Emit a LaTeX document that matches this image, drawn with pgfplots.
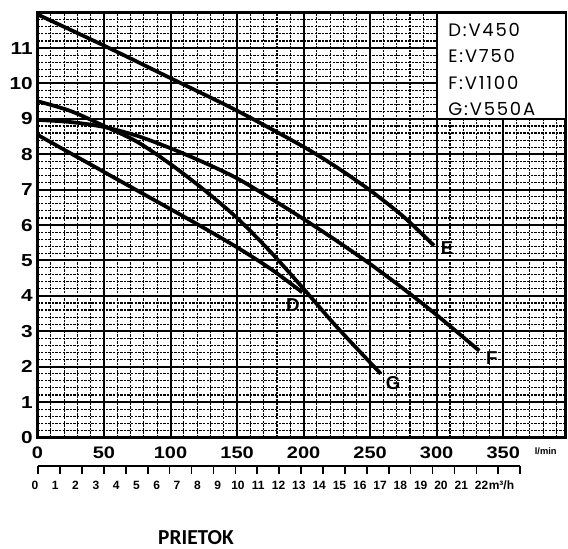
\documentclass[border=0pt]{standalone}
\usepackage{fontspec}
\setmainfont{Liberation Sans}
\usepackage{pgfplots}
\pgfplotsset{compat=1.18}
\newfontfamily\tickfont{Liberation Sans Bold}[FakeStretch=1.2]
\newfontfamily\legfont{Poppins}[LetterSpace=10]
\newfontfamily\calfont{Carlito}
\begin{document}
\begin{tikzpicture}
\useasboundingbox (-28.1pt,-83.6pt) rectangle (397.9pt,328.1pt);
\begin{axis}[
  at={(0pt,0pt)}, anchor=south west,
  scale only axis, width=396.2pt, height=318.6pt,
  xmin=0, xmax=397, ymin=0, ymax=12,
  xtick={0,50,...,350}, ytick={0,...,11},
  minor xtick={10,20,...,390},
  minor ytick={0.2,0.4,...,11.8},
  grid=both,
  major grid style={black, line width=1.5pt},
  minor grid style={black, line width=0.85pt, dash pattern=on 1.8pt off 0.9pt},
  major tick length=0pt, minor tick length=0pt,
  axis line style={black, line width=2.2pt},
  /pgf/number format/assume math mode=true,
  xticklabel style={font=\tickfont\fontsize{12.5pt}{14pt}\selectfont, anchor=north, inner sep=0pt, yshift=-6.9pt},
  yticklabel style={font=\tickfont\fontsize{13pt}{14pt}\selectfont, anchor=east, inner sep=0pt, xshift=-3.4pt},
  clip=false,
]
% D: V450
\addplot[black, line width=2.8pt, smooth] coordinates {(0,8.55) (50,7.5) (100,6.45) (125,5.92) (150,5.37) (175,4.77) (199,4.1)};
% E: V750
\addplot[black, line width=2.8pt, smooth] coordinates {(0,11.95) (50,11.07) (100,10.15) (150,9.23) (200,8.21) (225,7.63) (250,6.98) (275,6.24) (298,5.42)};
% F: V1100
\addplot[black, line width=2.8pt, smooth] coordinates {(0,8.97) (25,8.91) (50,8.77) (75,8.52) (100,8.17) (125,7.77) (150,7.32) (175,6.76) (200,6.17) (225,5.55) (250,4.9) (275,4.2) (300,3.46) (332,2.45)};
% G: V550A
\addplot[black, line width=2.8pt, smooth] coordinates {(0,9.5) (25,9.22) (50,8.8) (75,8.35) (100,7.72) (125,7.0) (150,6.2) (175,5.25) (200,4.2) (225,3.12) (258,1.8)};
\draw[line width=1.6pt, fill=white] (axis cs:300,9) rectangle (axis cs:397,12);
\node[anchor=base west, inner sep=0pt, font=\legfont\fontsize{13.5pt}{15pt}\selectfont] at (axis cs:308.6,11.34) {D:V450};
\node[anchor=base west, inner sep=0pt, font=\legfont\fontsize{13.5pt}{15pt}\selectfont] at (axis cs:308.6,10.59) {E:V750};
\node[anchor=base west, inner sep=0pt, font=\legfont\fontsize{13.5pt}{15pt}\selectfont] at (axis cs:308.6,9.84) {F:V1100};
\node[anchor=base west, inner sep=0pt, font=\legfont\fontsize{13.5pt}{15pt}\selectfont] at (axis cs:308.6,9.1) {G:V550A};
\node[font=\bfseries\fontsize{14pt}{16pt}\selectfont] at (axis cs:192,3.74) {D};
\node[font=\bfseries\fontsize{14pt}{16pt}\selectfont] at (axis cs:307.9,5.35) {E};
\node[font=\bfseries\fontsize{14pt}{16pt}\selectfont] at (axis cs:341.5,2.24) {F};
\node[font=\bfseries\fontsize{14pt}{16pt}\selectfont] at (axis cs:267.3,1.54) {G};
\node[font=\bfseries\fontsize{7pt}{8pt}\selectfont] at (axis cs:382,-0.4) {l/min};
\end{axis}
% secondary scale: tick marks
\begin{axis}[
  at={(0.6pt,-21.4pt)}, anchor=south west,
  scale only axis, width=361.4pt, height=5pt,
  xmin=0, xmax=22, ymin=0, ymax=1,
  axis x line=bottom, axis y line=none,
  axis line style={-, black, line width=1.5pt},
  xtick={0,...,22}, xticklabels={},
  tick align=outside, major tick length=6pt,
  tick style={black, line width=1.2pt},
]
\end{axis}
% secondary scale: labels
\begin{axis}[
  at={(-1.9pt,-32.6pt)}, anchor=south west,
  scale only axis, width=335pt, height=5pt,
  xmin=0, xmax=22, ymin=0, ymax=1,
  axis x line=bottom, axis y line=none,
  axis line style={draw=none},
  xtick={0,...,22}, major tick length=0pt,
  /pgf/number format/assume math mode=true,
  xticklabel style={font=\bfseries\fontsize{9pt}{10pt}\selectfont, anchor=north, inner sep=0pt},
  clip=false,
]
\node[anchor=north west, inner sep=0pt, font=\bfseries\fontsize{9pt}{10pt}\selectfont, xshift=5.2pt] at (axis cs:22,0) {m³/h};
\end{axis}
\node[inner sep=0pt, font=\calfont\bfseries\fontsize{16pt}{18pt}\selectfont] at (118.9pt,-75.4pt) {PRIETOK};
\end{tikzpicture}
\end{document}
